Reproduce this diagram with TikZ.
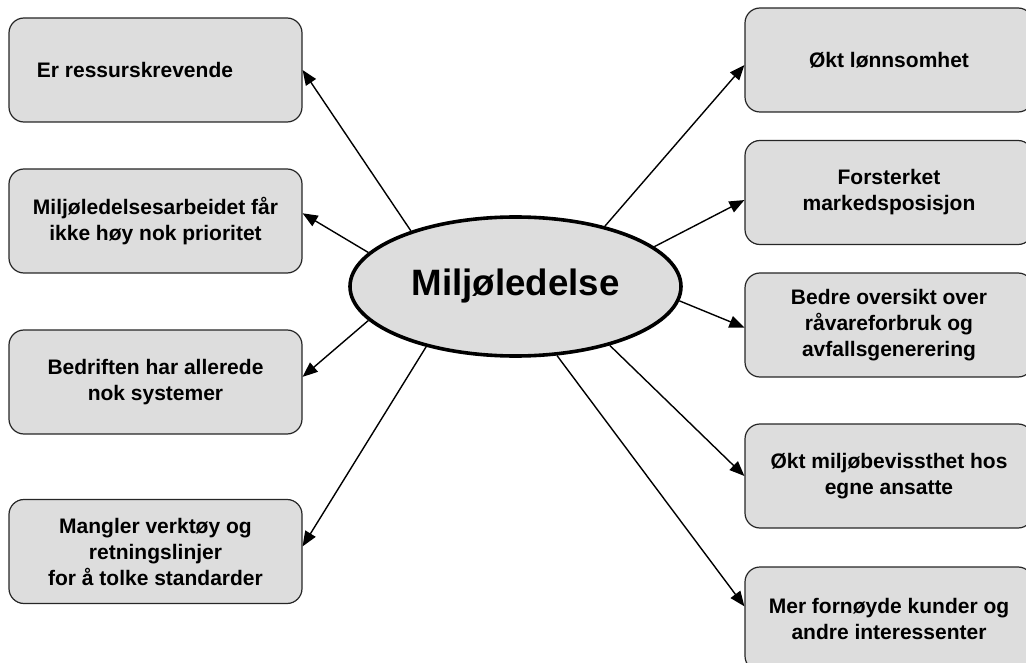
\documentclass[tikz,border=0pt]{standalone}
\usepackage{fontspec}
\setmainfont{Liberation Sans}
\usetikzlibrary{shapes.geometric}
\usetikzlibrary{arrows.meta}
\definecolor{lysgraa}{RGB}{221,221,221}
\begin{document}
\begin{tikzpicture}[x=1pt,y=-1pt,
	boks/.style={draw=black!85,line width=1.2pt,fill=lysgraa,rounded corners=15pt,
		minimum height=104pt,align=center,font=\bfseries\fontsize{21}{26}\selectfont},
	venstre/.style={boks,minimum width=293pt},
	hoyre/.style={boks,minimum width=288pt},
	pil/.style={line width=1.4pt,-{Triangle[length=15pt,width=12pt]}}]
	\clip (0,0) rectangle (1026,663);
	% ulemper
	\node[venstre] (ressurs) at (155.5,70) {Er ressurskrevende\hspace*{41pt}};
	\node[venstre] (prioritet) at (155.5,221) {Miljøledelsesarbeidet får\\ikke høy nok prioritet};
	\node[venstre] (systemer) at (155.5,382) {Bedriften har allerede\\nok systemer};
	\node[venstre] (verktoy) at (155.5,551.5) {Mangler verktøy og\\retningslinjer\\for å tolke standarder};
	% fordeler
	\node[hoyre] (lonnsomhet) at (889,60) {Økt lønnsomhet};
	\node[hoyre] (marked) at (889,192.5) {Forsterket\\markedsposisjon};
	\node[hoyre] (oversikt) at (889,325) {Bedre oversikt over\\råvareforbruk og\\avfallsgenerering};
	\node[hoyre] (ansatte) at (889,476) {Økt miljøbevissthet hos\\egne ansatte};
	\node[hoyre] (kunder) at (889,619) {Mer fornøyde kunder og\\andre interessenter};
	% midten
	\node[ellipse,draw,line width=3.6pt,fill=lysgraa,minimum width=331pt,minimum height=139pt,
		inner sep=0pt,font=\bfseries\fontsize{36.7}{44}\selectfont] (miljo) at (515.5,286.5) {Miljøledelse};
	\draw[pil] (miljo.152) -- (ressurs.east);
	\draw[pil] (miljo.167) -- (prioritet.3.5);
	\draw[pil] (miljo.193.7) -- (systemer.2.7);
	\draw[pil] (miljo.214.8) -- (verktoy.2.5);
	\draw[pil] (miljo.34.8) -- (lonnsomhet.182.8);
	\draw[pil] (miljo.16.8) -- (marked.183);
	\draw[pil] (miljo.-5.4) -- (oversikt.181.2);
	\draw[pil] (miljo.-32.2) -- (ansatte.west);
	\draw[pil] (miljo.-59.3) -- (kunder.175.6);
\end{tikzpicture}
\end{document}
